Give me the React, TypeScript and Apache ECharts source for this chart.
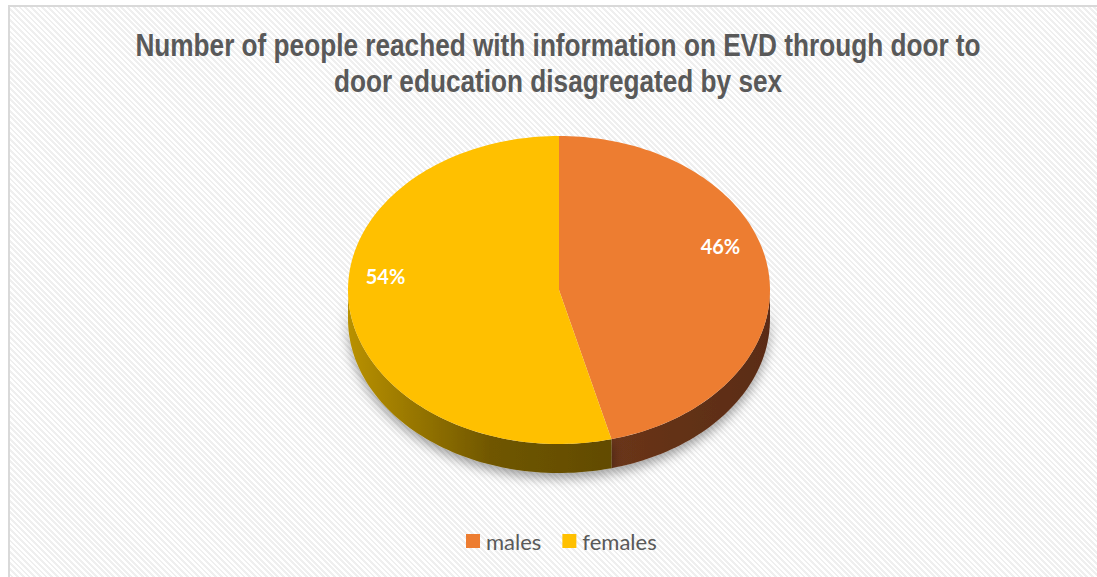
import React, { useEffect, useRef } from "react";
import * as echarts from "echarts";

// ---- data ----
const categories = ["males", "females"];
const values = [46, 54];
const labelTexts = ["46%", "54%"];
const titleLines = [
  "Number of people reached with information on EVD through door to",
  "door education disagregated by sex",
];

// ---- styles ----
const topColors = ["#ED7D31", "#FFC000"];
const sideStops = [
  [
    [0, "#6a351a"],
    [1, "#5a2c14"],
  ],
  [
    [0, "#b99106"],
    [0.55, "#6f5600"],
    [1, "#624b00"],
  ],
];

// ---- geometry of the 3D pie ----
const CX = 559;
const CY = 290;
const RX = 211;
const RY = 154;
const DEPTH = 29;

function pt(theta: number, dy = 0): number[] {
  return [CX + RX * Math.sin(theta), CY - RY * Math.cos(theta) + dy];
}

function arcPoints(a: number, b: number, dy = 0): number[][] {
  const pts: number[][] = [];
  const n = Math.max(2, Math.ceil(((b - a) / (Math.PI * 2)) * 240));
  for (let k = 0; k <= n; k++) {
    pts.push(pt(a + ((b - a) * k) / n, dy));
  }
  return pts;
}

function makeRenderItem(i: number) {
  return function renderItem(params: any, api: any) {
    const total = values.reduce((s, v) => s + v, 0);
    const before = values.slice(0, i).reduce((s, v) => s + v, 0);
    const start = (before / total) * Math.PI * 2;
    const end = ((before + values[i]) / total) * Math.PI * 2;
    const children: any[] = [];

    // visible side wall: front half between PI/2 and 3PI/2
    const a = Math.max(start, Math.PI / 2);
    const b = Math.min(end, (Math.PI * 3) / 2);
    if (a < b) {
      const top = arcPoints(a, b, 0);
      const bottom = arcPoints(a, b, DEPTH).reverse();
      const grad = new echarts.graphic.LinearGradient(
        0,
        0,
        1,
        0,
        sideStops[i].map((s) => ({ offset: s[0] as number, color: s[1] as string }))
      );
      children.push({
        type: "polygon",
        z2: 1,
        shape: { points: top.concat(bottom) },
        style: {
          fill: grad,
          shadowBlur: 12,
          shadowOffsetY: 5,
          shadowColor: "rgba(0,0,0,0.38)",
        },
      });
    }

    // top face
    const face = [[CX, CY]].concat(arcPoints(start, end, 0));
    children.push({
      type: "polygon",
      z2: 10,
      shape: { points: face },
      style: { fill: topColors[i] },
    });

    // label
    const mid = (start + end) / 2;
    const lx = CX + 0.8 * RX * Math.sin(mid) - 6;
    const ly = CY - 0.8 * RY * Math.cos(mid) - DEPTH;
    children.push({
      type: "text",
      z2: 20,
      x: lx,
      y: ly,
      style: {
        text: labelTexts[i],
        fill: "#ffffff",
        font: "bold 20px Lato, 'Open Sans', sans-serif",
        align: "center",
        verticalAlign: "middle",
        textAlign: "center",
        textVerticalAlign: "middle",
      },
    });

    return { type: "group", children };
  };
}

export default function App() {
  const ref = useRef<HTMLDivElement>(null);

  useEffect(() => {
    if (!ref.current) return;
    const chart = echarts.init(ref.current, null, { renderer: "svg" });
    chart.setOption({
      animation: false,
      backgroundColor: "transparent",
      graphic: titleLines.map((line, k) => ({
        type: "text",
        x: 558,
        y: 45 + k * 36,
        scaleX: 0.845,
        style: {
          text: line,
          font: "bold 31px 'Liberation Sans', Arial, sans-serif",
          fill: "#595959",
          align: "center",
          verticalAlign: "middle",
          textAlign: "center",
          textVerticalAlign: "middle",
        },
      })),
      legend: {
        data: categories,
        left: 466,
        top: 530,
        padding: 0,
        icon: "rect",
        itemWidth: 14,
        itemHeight: 14,
        itemGap: 21,
        selectedMode: false,
        textStyle: {
          fontFamily: "Lato, 'Open Sans', sans-serif",
          fontSize: 22,
          color: "#595959",
          padding: [0, 0, 0, 1],
        },
      },
      series: categories.map((name, i) => ({
        type: "custom",
        name,
        coordinateSystem: "none",
        itemStyle: { color: topColors[i] },
        data: [[values[i]]],
        renderItem: makeRenderItem(i),
      })),
    });
    return () => chart.dispose();
  }, []);

  return (
    <div style={{ position: "fixed", left: 0, top: 0, width: 1097, height: 577, background: "#ffffff", overflow: "hidden" }}>
      <div
        style={{
          position: "absolute",
          left: 8,
          top: 5,
          width: 1120,
          height: 600,
          borderLeft: "2px solid #d9d9d9",
          borderTop: "2px solid #d9d9d9",
          background:
            "repeating-linear-gradient(45deg, #ffffff 0px, #ffffff 2px, #efefef 2px, #efefef 4px)",
        }}
      />
      <div ref={ref} style={{ position: "absolute", left: 0, top: 0, width: 1097, height: 577 }} />
    </div>
  );
}
